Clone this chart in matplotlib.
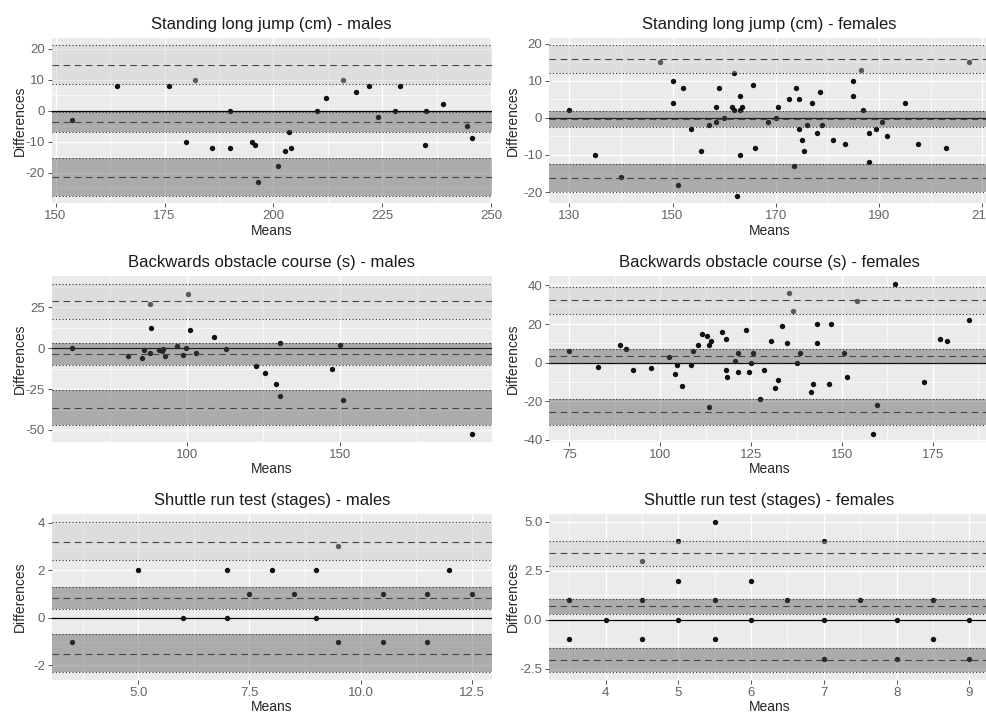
import matplotlib
matplotlib.use("Agg")
import matplotlib.pyplot as plt

# Bland-Altman style panels: means vs differences, with bias and limits of agreement
plt.rcParams["font.family"] = ["Liberation Sans", "DejaVu Sans"]
plt.rcParams["axes.unicode_minus"] = False

PANEL_BG = "#EBEBEB"
LIGHT_FILL = "#C8C8C8"
DARK_FILL = "#4C4C4C"
TICK_COLOR = "#636363"
LABEL_COLOR = "#262626"

# ---- Standing long jump (cm) - males
slj_m_means = [153.7, 164, 176, 182, 180, 186, 190, 190, 195, 195.7, 196.5, 201, 202.6, 203.5,
               204, 210, 212, 216, 219, 222, 224, 228, 229, 234.7, 235, 239, 244.5, 245.5]
slj_m_diffs = [-3, 8, 8, 10, -10, -12, 0, -12, -10, -11, -23, -18, -13, -7,
               -12, 0, 4, 10, 6, 8, -2, 0, 8, -11, 0, 2, -5, -9]
slj_m_upper = [8.6, 14.7, 21.1]
slj_m_bias = [-6.8, -3.6, -0.4]
slj_m_lower = [-27.5, -21.3, -15.4]

# ---- Standing long jump (cm) - females
slj_f_means = [130, 135, 140, 147.5, 150, 150, 151, 152, 153.5, 155.5, 157, 158.5, 158.5, 159,
               160, 161.5, 162, 162, 163, 163, 163.5, 163, 162.5, 165.5, 166, 168.5, 170, 170.5,
               172.5, 173.5, 174, 174.5, 174.5, 175, 175.5, 176, 177, 178, 178.5, 179, 181, 183.5,
               185, 185, 186.5, 187, 188, 188, 189.5, 190.5, 191.5, 195, 197.5, 203, 207.5]
slj_f_diffs = [2, -10, -16, 15, 10, 4, -18, 8, -3, -9, -2, 3, -1, 8,
               0, 3, 12, 2, 6, 2, 3, -10, -21, 9, -8, -1, 0, 3,
               5, -13, 8, 5, -3, -6, -9, -2, 4, -4, 7, -2, -6, -7,
               10, 6, 13, 2, -4, -12, -3, -1, -5, 4, -7, -8, 15]
slj_f_upper = [12.0, 15.8, 19.6]
slj_f_bias = [-2.4, -0.3, 1.9]
slj_f_lower = [-20.1, -16.3, -12.5]

# ---- Backwards obstacle course (s) - males
boc_m_means = [62.5, 81, 85.5, 86, 88, 88, 88.5, 91, 91.8, 92.3, 93, 97, 98.7, 99.7,
               100.3, 101, 103, 109, 113, 122.5, 125.5, 129, 130.5, 130.5, 147.5, 150, 151, 193]
boc_m_diffs = [0, -5, -6, -1, -3, 27, 12, -1, -1.5, -0.5, -5, 1, -4, 0,
               33, 11, -3, 7, -0.5, -11, -15, -22, 3, -29, -13, 2, -32, -52.5]
boc_m_upper = [18.0, 28.8, 39.4]
boc_m_bias = [-10.6, -3.9, 2.9]
boc_m_lower = [-47.1, -36.3, -25.5]

# ---- Backwards obstacle course (s) - females
boc_f_means = [75, 83, 89, 90.5, 92.5, 97.5, 102.5, 104, 104.5, 106, 108.5, 109, 110.5, 111.5,
               113, 113.5, 113.5, 114, 117, 118, 118, 118.5, 120.5, 121.5, 121.5, 123.5, 124.5,
               125, 125.5, 127.5, 128.5, 130.5, 131.5, 132.5, 133.5, 135, 135.5, 136.5, 137.5,
               138.5, 141.5, 142, 143, 143, 146.5, 147, 150.5, 151.5, 154, 158.5, 159.5, 164.5,
               172.5, 177, 179, 185]
boc_f_diffs = [6, -2, 9, 7, -4, -3, 3, -6, -1, -12, -1, 6, 9, 15,
               14, 9, -23, 11, 16, 12, -4, -7.5, 1, 5, -5, 17, -5,
               0, 5, -19, -4, 11, -13, -9, 19, 10, 36, 27, 0,
               5, -15, -11, 20, 10, -11, 20, 5, -7.5, 32, -37, -22, 41,
               -10, 12, 11, 22]
boc_f_upper = [25.4, 32.3, 39.3]
boc_f_bias = [-0.2, 3.5, 7.3]
boc_f_lower = [-32.3, -25.4, -18.8]

# ---- Shuttle run test (stages) - males
srt_m_means = [3.5, 5, 6, 7, 7, 7.5, 8, 8.5, 9, 9, 9.5, 9.5, 10.5, 10.5, 11.5, 11.5, 12, 12.5]
srt_m_diffs = [-1, 2, 0, 2, 0, 1, 2, 1, 2, 0, 3, -1, 1, -1, 1, -1, 2, 1]
srt_m_upper = [2.42, 3.2, 4.03]
srt_m_bias = [0.39, 0.84, 1.31]
srt_m_lower = [-2.29, -1.5, -0.69]

# ---- Shuttle run test (stages) - females
srt_f_means = [3.5, 3.5, 4, 4.5, 4.5, 4.5, 5, 5, 5, 5.5, 5.5, 5.5, 6, 6, 6.5,
               7, 7, 7, 7.5, 8, 8, 8.5, 8.5, 9, 9]
srt_f_diffs = [1, -1, 0, 3, 1, -1, 4, 2, 0, 5, 1, -1, 2, 0, 1,
               4, 0, -2, 1, 0, -2, 1, -1, 0, -2]
srt_f_upper = [2.74, 3.42, 4.03]
srt_f_bias = [0.31, 0.70, 1.07]
srt_f_lower = [-2.69, -2.04, -1.43]

# major tick positions
slj_m_xt = [150, 175, 200, 225, 250]
slj_m_yt = [-20, -10, 0, 10, 20]
slj_f_xt = [130, 150, 170, 190, 210]
slj_f_yt = [-20, -10, 0, 10, 20]
boc_m_xt = [100, 150]
boc_m_yt = [-50, -25, 0, 25]
boc_f_xt = [75, 100, 125, 150, 175]
boc_f_yt = [-40, -20, 0, 20, 40]
srt_m_xt = [5.0, 7.5, 10.0, 12.5]
srt_m_yt = [-2, 0, 2, 4]
srt_f_xt = [4, 5, 6, 7, 8, 9]
srt_f_yt = [-2.5, 0.0, 2.5, 5.0]


def fmt(v, decimals):
    return f"{v:.{decimals}f}"


def expand(vals):
    lo, hi = min(vals), max(vals)
    pad = (hi - lo) * 0.05
    return lo - pad, hi + pad


def minors(major, lo, hi):
    step = major[1] - major[0]
    out = []
    m = major[0] - step / 2
    while m <= hi:
        if m >= lo:
            out.append(m)
        m += step
    return out


def draw_panel(ax, title, means, diffs, upper, bias, lower, xt, yt, xdec, ydec, ylab_x):
    ax.set_facecolor(PANEL_BG)
    for s in ax.spines.values():
        s.set_visible(False)
    xlo, xhi = expand(means)
    ylo, yhi = expand(diffs + upper + lower)
    ax.set_xlim(xlo, xhi)
    ax.set_ylim(ylo, yhi)
    ax.set_xticks(xt)
    ax.set_xticklabels([fmt(v, xdec) for v in xt])
    ax.set_yticks(yt)
    ax.set_yticklabels([fmt(v, ydec) for v in yt])
    ax.set_xticks(minors(xt, xlo, xhi), minor=True)
    ax.set_yticks(minors(yt, ylo, yhi), minor=True)
    ax.set_axisbelow(True)
    ax.grid(which="major", color="white", lw=1.0)
    ax.grid(which="minor", color="white", lw=0.5)
    ax.tick_params(which="major", length=3.0, width=0.6, color="#333333",
                   labelsize=9.5, labelcolor=TICK_COLOR, pad=2)
    ax.tick_params(which="minor", length=0)

    ax.axhline(0, color="black", lw=0.9, zorder=1.5)
    ax.scatter(means, diffs, s=15, color="#111111", linewidths=0, zorder=2)
    ax.axhspan(upper[0], upper[2], color=LIGHT_FILL, alpha=0.4, lw=0, zorder=3)
    ax.axhspan(bias[0], bias[2], color=DARK_FILL, alpha=0.4, lw=0, zorder=3)
    ax.axhspan(lower[0], lower[2], color=DARK_FILL, alpha=0.4, lw=0, zorder=3)
    for band in (upper, bias, lower):
        ax.axhline(band[0], color="#333333", lw=0.8, ls=(0, (1, 2)), zorder=4)
        ax.axhline(band[1], color="#444444", lw=0.8, ls=(0, (6, 4)), zorder=4)
        ax.axhline(band[2], color="#333333", lw=0.8, ls=(0, (1, 2)), zorder=4)

    ax.set_title(title, fontsize=12, color="#1a1a1a", pad=6.5)
    ax.set_xlabel("Means", fontsize=10, color=LABEL_COLOR, labelpad=1)
    ax.set_ylabel("Differences", fontsize=10, color=LABEL_COLOR)
    ax.yaxis.set_label_coords(ylab_x, 0.5)


fig = plt.figure(figsize=(9.87, 7.13), dpi=100)
W, H = 987, 713
pw, ph = 440, 165.6
cols = [51.7, 549.3]
rows = [37.7, 276.0, 514.3]
ylab_xs = [-0.056, -0.067]


def make_ax(r, c):
    return fig.add_axes([cols[c] / W, 1 - (rows[r] + ph) / H, pw / W, ph / H])


draw_panel(make_ax(0, 0), "Standing long jump (cm) - males", slj_m_means, slj_m_diffs,
           slj_m_upper, slj_m_bias, slj_m_lower, slj_m_xt, slj_m_yt, 0, 0, ylab_xs[0])
draw_panel(make_ax(0, 1), "Standing long jump (cm) - females", slj_f_means, slj_f_diffs,
           slj_f_upper, slj_f_bias, slj_f_lower, slj_f_xt, slj_f_yt, 0, 0, ylab_xs[1])
draw_panel(make_ax(1, 0), "Backwards obstacle course (s) - males", boc_m_means, boc_m_diffs,
           boc_m_upper, boc_m_bias, boc_m_lower, boc_m_xt, boc_m_yt, 0, 0, ylab_xs[0])
draw_panel(make_ax(1, 1), "Backwards obstacle course (s) - females", boc_f_means, boc_f_diffs,
           boc_f_upper, boc_f_bias, boc_f_lower, boc_f_xt, boc_f_yt, 0, 0, ylab_xs[1])
draw_panel(make_ax(2, 0), "Shuttle run test (stages) - males", srt_m_means, srt_m_diffs,
           srt_m_upper, srt_m_bias, srt_m_lower, srt_m_xt, srt_m_yt, 1, 0, ylab_xs[0])
draw_panel(make_ax(2, 1), "Shuttle run test (stages) - females", srt_f_means, srt_f_diffs,
           srt_f_upper, srt_f_bias, srt_f_lower, srt_f_xt, srt_f_yt, 0, 1, ylab_xs[1])

fig.savefig("out.png", dpi=100, facecolor="white")
